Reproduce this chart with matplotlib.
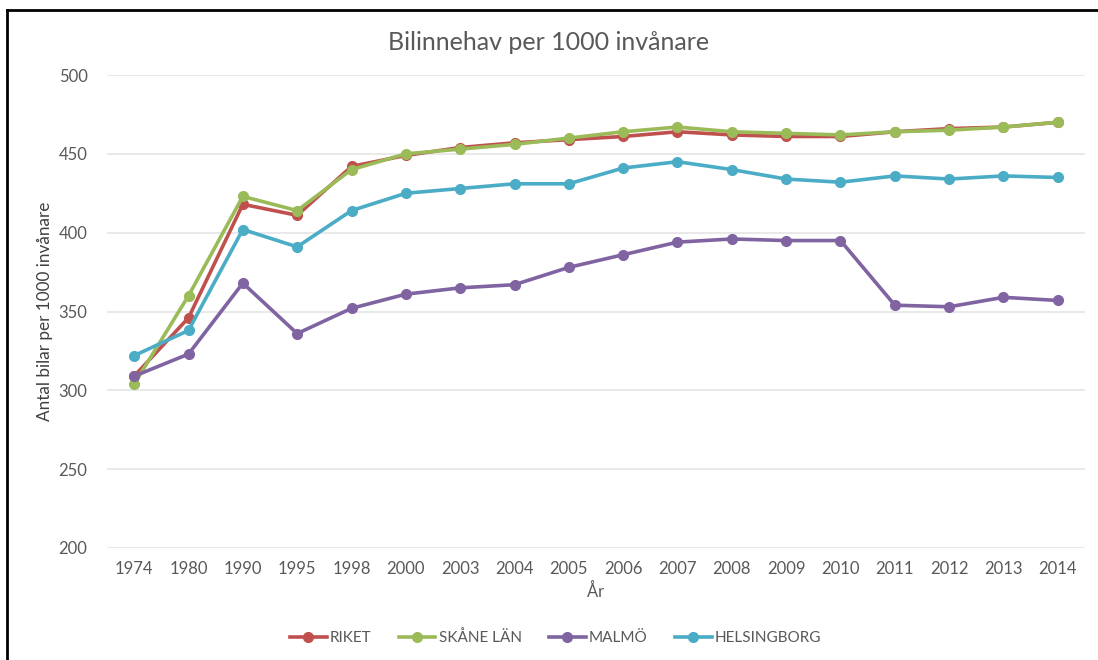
import matplotlib.pyplot as plt
from matplotlib.lines import Line2D

# ── Data ─────────────────────────────────────────────────────────────────────
years = ['1974', '1980', '1990', '1995', '1998', '2000', '2003', '2004', '2005',
         '2006', '2007', '2008', '2009', '2010', '2011', '2012', '2013', '2014']
riket = [309, 346, 418, 411, 442, 449, 454, 457, 459,
         461, 464, 462, 461, 461, 464, 466, 467, 470]
skane = [304, 360, 423, 414, 440, 450, 453, 456, 460,
         464, 467, 464, 463, 462, 464, 465, 467, 470]
malmo = [309, 323, 368, 336, 352, 361, 365, 367, 378,
         386, 394, 396, 395, 395, 354, 353, 359, 357]
helsingborg = [322, 338, 402, 391, 414, 425, 428, 431, 431,
               441, 445, 440, 434, 432, 436, 434, 436, 435]
y_ticks = [200, 250, 300, 350, 400, 450, 500]

series = [
    ('RIKET', riket, '#C0504D'),
    ('SKÅNE LÄN', skane, '#9BBB59'),
    ('MALMÖ', malmo, '#8064A2'),
    ('HELSINGBORG', helsingborg, '#4BACC6'),
]

# ── Style ────────────────────────────────────────────────────────────────────
plt.rcParams['font.family'] = ['Lato', 'DejaVu Sans']
txt = '#595959'

fig = plt.figure(figsize=(10.98, 6.6), dpi=100)
ax = fig.add_axes([107 / 1098, 1 - 548 / 660, (1085 - 107) / 1098, (548 - 75) / 660])

x = range(len(years))
for name, vals, col in series:
    ax.plot(x, vals, color=col, linewidth=2.6, marker='o', markersize=7,
            label=name, zorder=3)

ax.set_xlim(-0.5, len(years) - 0.5)
ax.set_ylim(200, 500)
ax.set_yticks(y_ticks)
ax.set_xticks(list(x))
ax.set_xticklabels(years)
ax.grid(axis='y', color='#E3E3E3', linewidth=1.1)
ax.set_axisbelow(True)
for s in ax.spines.values():
    s.set_visible(False)
ax.tick_params(length=0, colors=txt, labelsize=12, pad=9)
ax.tick_params(axis='y', pad=14)

ax.set_xlabel('År', color=txt, fontsize=12, labelpad=5)
ax.set_ylabel('Antal bilar per 1000 invånare', color='#404040', fontsize=12.3, labelpad=4)
fig.text(0.5, 1 - 42 / 660, 'Bilinnehav per 1000 invånare', ha='center', va='center',
         color=txt, fontsize=18)

fig.legend(loc='center', bbox_to_anchor=(0.506, 1 - 638 / 660), ncol=4, frameon=False,
           fontsize=11, labelcolor=txt, handlelength=2.4, columnspacing=1.8,
           handletextpad=0.2)

# black frame (top and left)
fig.add_artist(Line2D([6.5 / 1098, 1], [1 - 10 / 660, 1 - 10 / 660],
                      transform=fig.transFigure, color='black', linewidth=2))
fig.add_artist(Line2D([6.5 / 1098, 6.5 / 1098], [0, 1 - 10 / 660],
                      transform=fig.transFigure, color='black', linewidth=2))

fig.savefig('out.png', dpi=100)
